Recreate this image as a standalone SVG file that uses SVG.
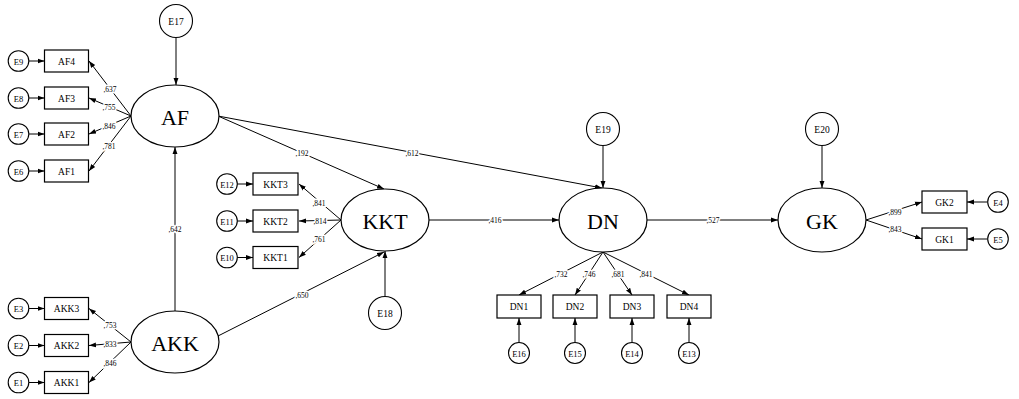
<svg xmlns="http://www.w3.org/2000/svg" width="1019" height="399" viewBox="0 0 1019 399">
<style>
  .bg{fill:#fff}
  .lat{fill:#fff;stroke:#000;stroke-width:1.2}
  .obs{fill:#fff;stroke:#000;stroke-width:1.2}
  .err{fill:#fff;stroke:#000;stroke-width:1.1}
  .c line{stroke:#000;stroke-width:1;marker-end:url(#arr)}
  text{font-family:"Liberation Serif","Times New Roman",serif;fill:#000;text-anchor:middle;dominant-baseline:central}
  .tl{font-size:22px}
  .to{font-size:9.5px}
  .te{font-size:8.5px}
  .tE{font-size:9.5px}
  .w{font-size:7.5px;stroke:#fff;stroke-width:3;paint-order:stroke;stroke-linejoin:round}
</style>
<defs>
  <marker id="arr" viewBox="0 0 10 10" refX="10" refY="5" markerWidth="7" markerHeight="7" markerUnits="userSpaceOnUse" orient="auto">
    <path d="M0,1.5 L10,5 L0,8.5 z" fill="#000"/>
  </marker>
</defs>
<rect class="bg" x="0" y="0" width="1019" height="399"/>

<g id="connectors" class="c">
  <!-- structural -->
  <line x1="176" y1="38" x2="176" y2="85"/>
  <line x1="385" y1="296" x2="385" y2="251"/>
  <line x1="603" y1="146" x2="603" y2="188"/>
  <line x1="822" y1="146" x2="822" y2="188"/>
  <line x1="175" y1="311" x2="175" y2="147"/>
  <line x1="218" y1="116" x2="384" y2="189"/>
  <line x1="218" y1="116" x2="602" y2="188"/>
  <line x1="218" y1="336" x2="384" y2="252"/>
  <line x1="429" y1="220" x2="559" y2="220"/>
  <line x1="647" y1="220" x2="778" y2="220"/>
  <!-- AF indicators -->
  <line x1="131" y1="116" x2="89" y2="61"/>
  <line x1="131" y1="116" x2="89" y2="98"/>
  <line x1="131" y1="116" x2="89" y2="134"/>
  <line x1="131" y1="116" x2="89" y2="171"/>
  <!-- AKK indicators -->
  <line x1="131" y1="342" x2="89" y2="308.5"/>
  <line x1="131" y1="342" x2="89" y2="345.5"/>
  <line x1="131" y1="342" x2="89" y2="382.5"/>
  <!-- KKT indicators -->
  <line x1="341" y1="220" x2="299" y2="184"/>
  <line x1="341" y1="220" x2="299" y2="221"/>
  <line x1="341" y1="220" x2="299" y2="257.5"/>
  <!-- DN indicators -->
  <line x1="603" y1="252" x2="519" y2="295"/>
  <line x1="603" y1="252" x2="575" y2="295"/>
  <line x1="603" y1="252" x2="632" y2="295"/>
  <line x1="603" y1="252" x2="689" y2="295"/>
  <!-- GK indicators -->
  <line x1="866" y1="220" x2="922" y2="202"/>
  <line x1="866" y1="220" x2="922" y2="239"/>
  <!-- error terms -> indicators -->
  <line x1="29" y1="61" x2="44.5" y2="61"/>
  <line x1="29" y1="98" x2="44.5" y2="98"/>
  <line x1="29" y1="134" x2="44.5" y2="134"/>
  <line x1="29" y1="171" x2="44.5" y2="171"/>
  <line x1="29" y1="308.5" x2="44.5" y2="308.5"/>
  <line x1="29" y1="345.5" x2="44.5" y2="345.5"/>
  <line x1="29" y1="382.5" x2="44.5" y2="382.5"/>
  <line x1="237" y1="184" x2="253" y2="184"/>
  <line x1="237" y1="221" x2="253" y2="221"/>
  <line x1="237" y1="257.5" x2="253" y2="257.5"/>
  <line x1="519" y1="342.5" x2="519" y2="318"/>
  <line x1="575" y1="342.5" x2="575" y2="318"/>
  <line x1="632" y1="342.5" x2="632" y2="318"/>
  <line x1="689" y1="342.5" x2="689" y2="318"/>
  <line x1="987.5" y1="202" x2="967" y2="202"/>
  <line x1="987.5" y1="239" x2="967" y2="239"/>
</g>

<g id="weights">
  <text class="w" x="175" y="229">,642</text>
  <text class="w" x="302" y="153">,192</text>
  <text class="w" x="412" y="153">,612</text>
  <text class="w" x="302" y="295">,650</text>
  <text class="w" x="495" y="220">,416</text>
  <text class="w" x="713" y="220">,527</text>
  <text class="w" x="110" y="89">,637</text>
  <text class="w" x="109" y="107">,755</text>
  <text class="w" x="109" y="126">,846</text>
  <text class="w" x="109" y="146">,781</text>
  <text class="w" x="110" y="325">,753</text>
  <text class="w" x="110" y="344">,833</text>
  <text class="w" x="110" y="363">,846</text>
  <text class="w" x="319" y="203">,841</text>
  <text class="w" x="320" y="221">,814</text>
  <text class="w" x="319" y="239">,761</text>
  <text class="w" x="561" y="274">,732</text>
  <text class="w" x="589" y="274">,746</text>
  <text class="w" x="618" y="274">,681</text>
  <text class="w" x="646" y="274">,841</text>
  <text class="w" x="895" y="212">,899</text>
  <text class="w" x="895" y="229">,843</text>
</g>

<!-- latent variables -->
<g id="AF"><ellipse class="lat" cx="175" cy="116" rx="44" ry="31"/><text class="tl" x="175" y="117">AF</text></g>
<g id="AKK"><ellipse class="lat" cx="175" cy="342" rx="44" ry="31"/><text class="tl" x="175" y="343">AKK</text></g>
<g id="KKT"><ellipse class="lat" cx="385" cy="220" rx="44" ry="31"/><text class="tl" x="385" y="221">KKT</text></g>
<g id="DN"><ellipse class="lat" cx="603" cy="220" rx="44" ry="32"/><text class="tl" x="603" y="221">DN</text></g>
<g id="GK"><ellipse class="lat" cx="822" cy="220" rx="44" ry="32"/><text class="tl" x="822" y="221">GK</text></g>

<!-- structural error terms -->
<g id="E17"><circle class="err" cx="176" cy="21" r="16.5"/><text class="tE" x="176" y="21.5">E17</text></g>
<g id="E18"><circle class="err" cx="385" cy="313" r="16.5"/><text class="tE" x="385" y="313.5">E18</text></g>
<g id="E19"><circle class="err" cx="603" cy="129" r="16.5"/><text class="tE" x="603" y="129.5">E19</text></g>
<g id="E20"><circle class="err" cx="822" cy="129" r="16.5"/><text class="tE" x="822" y="129.5">E20</text></g>

<!-- AF indicators -->
<g id="AF4"><rect class="obs" x="44.5" y="50" width="44" height="22"/><text class="to" x="66.5" y="61.5">AF4</text></g>
<g id="AF3"><rect class="obs" x="44.5" y="87" width="44" height="22"/><text class="to" x="66.5" y="98.5">AF3</text></g>
<g id="AF2"><rect class="obs" x="44.5" y="123" width="44" height="22"/><text class="to" x="66.5" y="134.5">AF2</text></g>
<g id="AF1"><rect class="obs" x="44.5" y="160" width="44" height="22"/><text class="to" x="66.5" y="171.5">AF1</text></g>
<g id="E9"><circle class="err" cx="18.5" cy="61" r="10.3"/><text class="te" x="18.5" y="61.5">E9</text></g>
<g id="E8"><circle class="err" cx="18.5" cy="98" r="10.3"/><text class="te" x="18.5" y="98.5">E8</text></g>
<g id="E7"><circle class="err" cx="18.5" cy="134" r="10.3"/><text class="te" x="18.5" y="134.5">E7</text></g>
<g id="E6"><circle class="err" cx="18.5" cy="171" r="10.3"/><text class="te" x="18.5" y="171.5">E6</text></g>

<!-- AKK indicators -->
<g id="AKK3"><rect class="obs" x="44.5" y="297.5" width="44" height="22"/><text class="to" x="66.5" y="309">AKK3</text></g>
<g id="AKK2"><rect class="obs" x="44.5" y="334.5" width="44" height="22"/><text class="to" x="66.5" y="346">AKK2</text></g>
<g id="AKK1"><rect class="obs" x="44.5" y="371.5" width="44" height="22"/><text class="to" x="66.5" y="383">AKK1</text></g>
<g id="E3"><circle class="err" cx="18.5" cy="308.5" r="10.3"/><text class="te" x="18.5" y="309">E3</text></g>
<g id="E2"><circle class="err" cx="18.5" cy="345.5" r="10.3"/><text class="te" x="18.5" y="346">E2</text></g>
<g id="E1"><circle class="err" cx="18.5" cy="382.5" r="10.3"/><text class="te" x="18.5" y="383">E1</text></g>

<!-- KKT indicators -->
<g id="KKT3"><rect class="obs" x="253" y="173" width="45" height="22"/><text class="to" x="275.5" y="184.5">KKT3</text></g>
<g id="KKT2"><rect class="obs" x="253" y="210" width="45" height="22"/><text class="to" x="275.5" y="221.5">KKT2</text></g>
<g id="KKT1"><rect class="obs" x="253" y="246.5" width="45" height="22"/><text class="to" x="275.5" y="258">KKT1</text></g>
<g id="E12"><circle class="err" cx="227" cy="184" r="10.3"/><text class="te" x="227" y="184.5">E12</text></g>
<g id="E11"><circle class="err" cx="227" cy="221" r="10.3"/><text class="te" x="227" y="221.5">E11</text></g>
<g id="E10"><circle class="err" cx="227" cy="257.5" r="10.3"/><text class="te" x="227" y="258">E10</text></g>

<!-- DN indicators -->
<g id="DN1"><rect class="obs" x="497" y="295" width="44" height="23"/><text class="to" x="519" y="307">DN1</text></g>
<g id="DN2"><rect class="obs" x="553" y="295" width="44" height="23"/><text class="to" x="575" y="307">DN2</text></g>
<g id="DN3"><rect class="obs" x="610" y="295" width="44" height="23"/><text class="to" x="632" y="307">DN3</text></g>
<g id="DN4"><rect class="obs" x="667" y="295" width="44" height="23"/><text class="to" x="689" y="307">DN4</text></g>
<g id="E16"><circle class="err" cx="519" cy="353" r="10.5"/><text class="te" x="519" y="353.5">E16</text></g>
<g id="E15"><circle class="err" cx="575" cy="353" r="10.5"/><text class="te" x="575" y="353.5">E15</text></g>
<g id="E14"><circle class="err" cx="632" cy="353" r="10.5"/><text class="te" x="632" y="353.5">E14</text></g>
<g id="E13"><circle class="err" cx="689" cy="353" r="10.5"/><text class="te" x="689" y="353.5">E13</text></g>

<!-- GK indicators -->
<g id="GK2"><rect class="obs" x="922" y="191" width="45" height="22"/><text class="to" x="944.5" y="202.5">GK2</text></g>
<g id="GK1"><rect class="obs" x="922" y="228" width="45" height="22"/><text class="to" x="944.5" y="239.5">GK1</text></g>
<g id="E4"><circle class="err" cx="998" cy="202" r="10.3"/><text class="te" x="998" y="202.5">E4</text></g>
<g id="E5"><circle class="err" cx="998" cy="239" r="10.3"/><text class="te" x="998" y="239.5">E5</text></g>
</svg>
